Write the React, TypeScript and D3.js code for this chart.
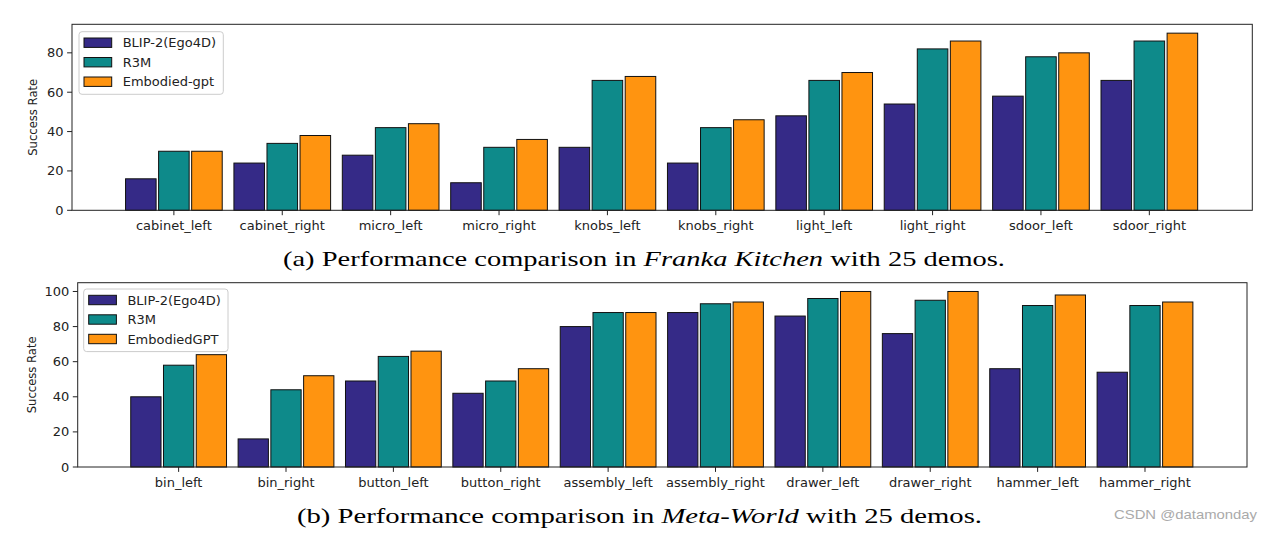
import React from "react";
import * as d3 from "d3";

const seriesNames = ["BLIP-2(Ego4D)", "R3M", "Embodied-gpt"];
const seriesNamesB = ["BLIP-2(Ego4D)", "R3M", "EmbodiedGPT"];
const colors = ["#352a87", "#0e8a8a", "#ff9410"];

const kitchenTasks = [
  "cabinet_left", "cabinet_right", "micro_left", "micro_right", "knobs_left",
  "knobs_right", "light_left", "light_right", "sdoor_left", "sdoor_right",
];
const kitchenBlip = [16, 24, 28, 14, 32, 24, 48, 54, 58, 66];
const kitchenR3M = [30, 34, 42, 32, 66, 42, 66, 82, 78, 86];
const kitchenEmb = [30, 38, 44, 36, 68, 46, 70, 86, 80, 90];
const kitchenTicks = [0, 20, 40, 60, 80];

const worldTasks = [
  "bin_left", "bin_right", "button_left", "button_right", "assembly_left",
  "assembly_right", "drawer_left", "drawer_right", "hammer_left", "hammer_right",
];
const worldBlip = [40, 16, 49, 42, 80, 88, 86, 76, 56, 54];
const worldR3M = [58, 44, 63, 49, 88, 93, 96, 95, 92, 92];
const worldEmb = [64, 52, 66, 56, 88, 94, 100, 100, 98, 94];
const worldTicks = [0, 20, 40, 60, 80, 100];

const FONT = "DejaVu Sans, sans-serif";

type PanelProps = {
  left: number; right: number; top: number; bottom: number;
  yMax: number; ticks: number[]; tasks: string[]; series: number[][];
  names: string[]; legendX: number; legendY: number; ylabelX: number;
};

function Panel(p: PanelProps) {
  const x = d3.scaleLinear().domain([-0.94, 9.95]).range([p.left, p.right]);
  const y = d3.scaleLinear().domain([0, p.yMax]).range([p.bottom, p.top]);
  const off = 0.305;
  const w = 0.282;
  const bw = x(w) - x(0);
  const lw = 144.3;
  const lh = 62.6;
  const rowOff = [11, 30.5, 50];
  return (
    <g>
      {p.series.map((vals, s) =>
        vals.map((v, i) => {
          const cx = x(i + (s - 1) * off);
          return (
            <rect key={`${s}-${i}`} x={cx - bw / 2} y={y(v)} width={bw}
              height={y(0) - y(v)} fill={colors[s]} stroke="#111" strokeWidth={1} />
          );
        })
      )}
      <rect x={p.left} y={p.top} width={p.right - p.left} height={p.bottom - p.top}
        fill="none" stroke="#222" strokeWidth={1} />
      {p.ticks.map((t) => (
        <g key={t}>
          <line x1={p.left - 4.9} x2={p.left} y1={y(t)} y2={y(t)} stroke="#222" />
          <text x={p.left - 8.4} y={y(t)} textAnchor="end" dominantBaseline="central"
            fontFamily={FONT} fontSize={13} fill="#222">{t}</text>
        </g>
      ))}
      {p.tasks.map((t, i) => (
        <g key={t}>
          <line x1={x(i)} x2={x(i)} y1={p.bottom} y2={p.bottom + 4.9} stroke="#222" />
          <text x={x(i)} y={p.bottom + 19.5} textAnchor="middle"
            fontFamily={FONT} fontSize={13} fill="#222">{t}</text>
        </g>
      ))}
      <text transform={`translate(${p.ylabelX},${(p.top + p.bottom) / 2}) rotate(-90)`}
        textAnchor="middle" dominantBaseline="central" fontFamily={FONT}
        fontSize={11.6} fill="#222">Success Rate</text>
      <rect x={p.legendX} y={p.legendY} width={lw} height={lh} rx={3}
        fill="white" fillOpacity={0.8} stroke="#cccccc" />
      {p.names.map((n, s) => (
        <g key={n}>
          <rect x={p.legendX + 5} y={p.legendY + rowOff[s] - 4.7} width={27.7} height={9.4}
            fill={colors[s]} stroke="#111" />
          <text x={p.legendX + 43.7} y={p.legendY + rowOff[s]} dominantBaseline="central"
            fontFamily={FONT} fontSize={13} fill="#222">{n}</text>
        </g>
      ))}
    </g>
  );
}

export default function App() {
  const serif = "Liberation Serif, Times New Roman, serif";
  return (
    <svg width={1277} height={533} style={{ position: "absolute", left: 0, top: 0, background: "white" }}>
      <rect x={0} y={0} width={1277} height={533} fill="white" />
      <Panel left={72} right={1252.3} top={24.3} bottom={210.3} yMax={94.5}
        ticks={kitchenTicks} tasks={kitchenTasks}
        series={[kitchenBlip, kitchenR3M, kitchenEmb]} names={seriesNames}
        legendX={79} legendY={31.7} ylabelX={33.3} />
      <Panel left={77.7} right={1247} top={282.7} bottom={467} yMax={105}
        ticks={worldTicks} tasks={worldTasks}
        series={[worldBlip, worldR3M, worldEmb]} names={seriesNamesB}
        legendX={83.7} legendY={289} ylabelX={31.7} />
      <text x={283} y={266.3} fontFamily={serif} fontSize={21} fill="#000"
        textLength={722} lengthAdjust="spacingAndGlyphs">
        (a) Performance comparison in <tspan fontStyle="italic">Franka Kitchen</tspan> with 25 demos.
      </text>
      <text x={297} y={523} fontFamily={serif} fontSize={21} fill="#000"
        textLength={685} lengthAdjust="spacingAndGlyphs">
        (b) Performance comparison in <tspan fontStyle="italic">Meta-World</tspan> with 25 demos.
      </text>
      <text x={1114} y={518.5} fontFamily="Liberation Sans, Arial, sans-serif" fontSize={13}
        fill="#aaaaaa" textLength={143} lengthAdjust="spacingAndGlyphs">CSDN @datamonday</text>
    </svg>
  );
}
